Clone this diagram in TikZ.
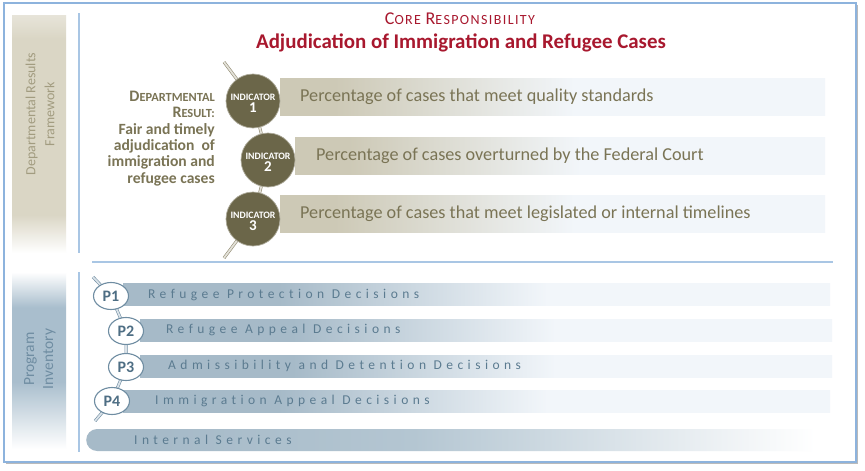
\documentclass[tikz,border=0pt]{standalone}
\usepackage{fontspec}
\setmainfont{Carlito}
\newfontfamily\spaced[LetterSpace=33,Ligatures={NoCommon}]{Carlito}
\newfontfamily\corefont[LetterSpace=10]{Carlito}
\usetikzlibrary{shadows,shapes.geometric}
\definecolor{framec}{HTML}{8DB3DD}
\definecolor{sepc}{HTML}{A9C6E4}
\definecolor{oliveF}{HTML}{6B6649}
\definecolor{oliveT}{HTML}{7A7455}
\definecolor{oliveL}{HTML}{A29C80}
\definecolor{tanL}{HTML}{CDC9B6}
\definecolor{paleR}{HTML}{F2F6FA}
\definecolor{blueL}{HTML}{A6BAC8}
\definecolor{blueM}{HTML}{B4C6D2}
\definecolor{blueT}{HTML}{5B7B90}
\definecolor{blueD}{HTML}{4E6E84}
\definecolor{blueB}{HTML}{6F8DA2}
\definecolor{bandTan}{HTML}{DAD6C5}
\definecolor{bandTanTop}{HTML}{E7E4D9}
\definecolor{bandBlue}{HTML}{A9BECD}
\definecolor{redT}{HTML}{A8182E}
% TikZ maps a path's box onto the middle 25bp..75bp of a declared shading
\pgfdeclarehorizontalshading{tanbar}{100bp}{color(0bp)=(tanL); color(30bp)=(tanL); color(52bp)=(paleR); color(100bp)=(paleR)}
\pgfdeclarehorizontalshading{bluebar}{100bp}{color(0bp)=(blueL); color(36bp)=(blueL); color(55bp)=(paleR); color(100bp)=(paleR)}
\pgfdeclarehorizontalshading{intbar}{100bp}{color(0bp)=(blueL); color(30bp)=(blueL); color(47bp)=(blueM); color(74bp)=(white); color(100bp)=(white)}
\pgfdeclareverticalshading{tanband}{100bp}{color(0bp)=(white); color(25bp)=(white); color(33bp)=(bandTan); color(70bp)=(bandTan); color(75bp)=(bandTanTop); color(100bp)=(bandTanTop)}
\pgfdeclareverticalshading{blueband}{100bp}{color(0bp)=(white); color(25bp)=(white); color(44bp)=(bandBlue); color(65bp)=(bandBlue); color(75bp)=(white); color(100bp)=(white)}
\pgfdeclarelayer{background}
\pgfdeclarelayer{lines}
\pgfsetlayers{background,lines,main}
\tikzset{
  indbar/.style={shading=tanbar, minimum height=37pt, anchor=west, inner sep=0pt},
  progbar/.style={shading=bluebar, minimum height=22pt, anchor=west, inner sep=0pt},
  indtext/.style={anchor=west, text=oliveT, font=\fontsize{18.2}{20}\selectfont, inner sep=0pt},
  progtext/.style={anchor=west, text=blueT, font=\fontsize{13.5}{15}\selectfont\spaced, inner sep=0pt},
  indcircle/.style={circle, fill=oliveF, draw=oliveF!55!white, line width=0.7pt, minimum size=54pt, inner sep=0pt, text=white, align=center, font=\bfseries},
  pcircle/.style={ellipse, fill=white, draw=blueB, line width=1.1pt, minimum width=35pt, minimum height=27pt, inner sep=0pt, text=blueD, font=\fontsize{16}{16}\selectfont\bfseries},
  oliveline/.style={draw=oliveL!90!black, line width=0.6pt, double=oliveL!30!white, double distance=1.8pt},
  blueline/.style={draw=blueB, line width=0.6pt, double=blueL!40!white, double distance=1.8pt},
  sepline/.style={draw=sepc, line width=1.2pt},
}
\newcommand{\indlabel}[1]{{\fontsize{9.8}{11}\selectfont\rule{0pt}{11pt}INDICATOR}\\{\fontsize{15}{11}\selectfont #1}}
\begin{document}
\begin{tikzpicture}[x=1pt,y=-1pt]
\useasboundingbox (0,0) rectangle (865,471);
\begin{pgfonlayer}{background}
  % outer frame
  \draw[framec, line width=1.5pt, fill=white, drop shadow={shadow xshift=2pt, shadow yshift=-2pt, opacity=0.45, fill=black!60}] (4,3) rectangle (856,462);
  % side bands
  \shade[shading=tanband] (12,15) rectangle (66,253);
  \shade[shading=blueband] (12,272) rectangle (66,449);
  % separators
  \draw[sepline] (79,13) -- (79,253);
  \draw[sepline] (79,272) -- (79,452);
  \draw[sepline] (92,262) -- (833,262);
  % indicator bars
  \node[indbar, minimum width=545pt] (b1) at (280,97) {};
  \node[indbar, minimum width=530pt] (b2) at (295,156) {};
  \node[indbar, minimum width=545pt] (b3) at (280,214) {};
  % program bars
  \node[progbar, minimum width=707pt] (pb1) at (123,294) {};
  \node[progbar, minimum width=692pt] (pb2) at (140,330) {};
  \node[progbar, minimum width=692pt] (pb3) at (140,366) {};
  \node[progbar, minimum width=707pt] (pb4) at (123,401) {};
  \node[shading=intbar, rounded corners=11pt, minimum width=744pt, minimum height=22pt, anchor=west, inner sep=0pt] (pb5) at (86,440) {};
\end{pgfonlayer}

% side band labels
\node[rotate=90, align=center, text=oliveL, font=\fontsize{14}{19}\selectfont] (fw) at (40,114) {Departmental Results\\Framework};
\node[rotate=90, align=center, text=blueB, font=\fontsize{15.5}{19}\selectfont] (pi) at (40,359) {Program\\Inventory};

% titles
\node[text=redT, inner sep=0pt] (core) at (460,19) {\corefont{\fontsize{18}{18}\selectfont C}{\fontsize{14}{18}\selectfont ORE }{\fontsize{18}{18}\selectfont R}{\fontsize{14}{18}\selectfont ESPONSIBILITY}};
\node[text=redT, inner sep=0pt, font=\fontsize{20.9}{22}\selectfont\bfseries] (title) at (461,43) {Adjudication of Immigration and Refugee Cases};

% departmental result
\node[anchor=north east, align=right, text=oliveT, inner sep=0pt, font=\fontsize{15.6}{16.3}\selectfont\bfseries] (dr) at (215,91) {{\fontsize{16}{16.3}\selectfont D}{\fontsize{12.4}{16.3}\selectfont EPARTMENTAL}\\{\fontsize{16}{16.3}\selectfont R}{\fontsize{12.4}{16.3}\selectfont ESULT:}\\Fair and timely\\adjudication\ \ of\\immigration and\\refugee cases};

% indicator circles
\node[indcircle] (i1) at (253,101) {\indlabel{1}};
\node[indcircle] (i2) at (268,160) {\indlabel{2}};
\node[indcircle] (i3) at (253,219) {\indlabel{3}};
\coordinate (itop) at (224,62);
\coordinate (ibot) at (224,258);
\begin{pgfonlayer}{lines}
  \draw[oliveline] (itop) -- (i1.center) -- (i2.center) -- (i3.center) -- (ibot);
\end{pgfonlayer}

% indicator texts
\node[indtext] (t1) at (300,97) {Percentage of cases that meet quality standards};
\node[indtext] (t2) at (316,156) {Percentage of cases overturned by the Federal Court};
\node[indtext] (t3) at (300,214) {Percentage of cases that meet legislated or internal timelines};

% program circles
\node[pcircle] (p1) at (111,296) {P1};
\node[pcircle] (p2) at (126,331) {P2};
\node[pcircle] (p3) at (126,367) {P3};
\node[pcircle] (p4) at (112,401) {P4};
\coordinate (ptop) at (93,277);
\coordinate (pbot) at (95,421);
\begin{pgfonlayer}{lines}
  \draw[blueline] (ptop) -- (p1.center) -- (p2.center) -- (p3.center) -- (p4.center) -- (pbot);
\end{pgfonlayer}

% program texts
\node[progtext] (pt1) at (148,295) {Refugee Protection Decisions};
\node[progtext] (pt2) at (166,330) {Refugee Appeal Decisions};
\node[progtext] (pt3) at (168,366) {Admissibility and Detention Decisions};
\node[progtext] (pt4) at (155,401) {Immigration Appeal Decisions};
\node[progtext] (pt5) at (134,440) {Internal Services};
\end{tikzpicture}
\end{document}
